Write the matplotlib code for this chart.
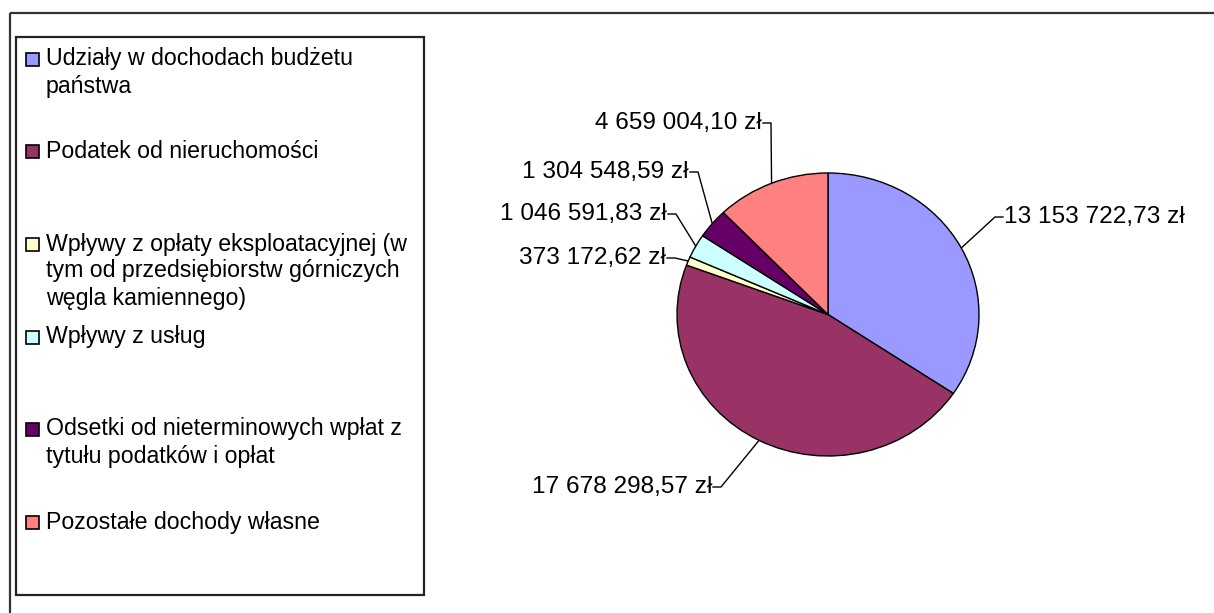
import numpy as np
import matplotlib
matplotlib.use("Agg")
from matplotlib import pyplot as plt
from matplotlib.patches import Rectangle

plt.rcParams['font.family'] = ['Liberation Sans', 'DejaVu Sans']

# data
categories = [
    "Udziały w dochodach budżetu\npaństwa",
    "Podatek od nieruchomości",
    "Wpływy z opłaty eksploatacyjnej (w\ntym od przedsiębiorstw górniczych\nwęgla kamiennego)",
    "Wpływy z usług",
    "Odsetki od nieterminowych wpłat z\ntytułu podatków i opłat",
    "Pozostałe dochody własne",
]
values = [13153722.73, 17678298.57, 373172.62, 1046591.83, 1304548.59, 4659004.10]
value_labels = ["13 153 722,73 zł", "17 678 298,57 zł", "373 172,62 zł",
                "1 046 591,83 zł", "1 304 548,59 zł", "4 659 004,10 zł"]
colors = ["#9999FF", "#993366", "#FFFFCC", "#CCFFFF", "#660066", "#FF8080"]

W, H = 1214, 613
fig = plt.figure(figsize=(W / 100, H / 100), dpi=100)

# background axes in pixel units
bg = fig.add_axes([0, 0, 1, 1])
bg.set_xlim(0, W)
bg.set_ylim(H, 0)
bg.axis('off')

# outer chart frame
bg.add_patch(Rectangle((10, 13), W, H, fill=False, ec="#333333", lw=1.6))

# legend box
bg.add_patch(Rectangle((16, 37), 408, 558, fill=False, ec="#222222", lw=1.6))
legend_y = [59, 151, 244, 337, 429, 522]
for lab, col, y in zip(categories, colors, legend_y):
    bg.add_patch(Rectangle((26, y - 6.5), 13, 13, fc=col, ec="black", lw=1.2))
    for i, line in enumerate(lab.split("\n")):
        bg.text(46, y + i * 27, line, fontsize=16.7, va='center', ha='left')

# pie
cx, cy, rx, ry = 828, 314.5, 151, 141.5
ax = fig.add_axes([(cx - rx) / W, (H - cy - ry) / H, 2 * rx / W, 2 * ry / H])
wedges, _ = ax.pie(values, colors=colors, startangle=90, counterclock=False,
                   wedgeprops=dict(edgecolor="black", linewidth=1))
ax.set_aspect('auto')
ax.set_xlim(-1, 1)
ax.set_ylim(-1, 1)
ax.axis('off')

# label layout: text anchor (pixels), alignment
label_pos = [(1003, 217, 'left'), (713, 487, 'right'), (667, 258, 'right'),
             (668, 214, 'right'), (690, 172, 'right'), (763, 123, 'right')]

for w, txt, (tx, ty, ha) in zip(wedges, value_labels, label_pos):
    ang = np.deg2rad((w.theta1 + w.theta2) / 2)
    ex = cx + rx * np.cos(ang)
    ey = cy - ry * np.sin(ang)
    elbow = tx - 8 if ha == 'left' else tx + 8
    bg.plot([ex, elbow, tx], [ey, ty, ty], color="black", lw=1)
    bg.text(tx + (1 if ha == 'left' else -1), ty, txt, fontsize=17.6,
            ha=ha, va='center')

fig.savefig("out.png", dpi=100, facecolor="white")
